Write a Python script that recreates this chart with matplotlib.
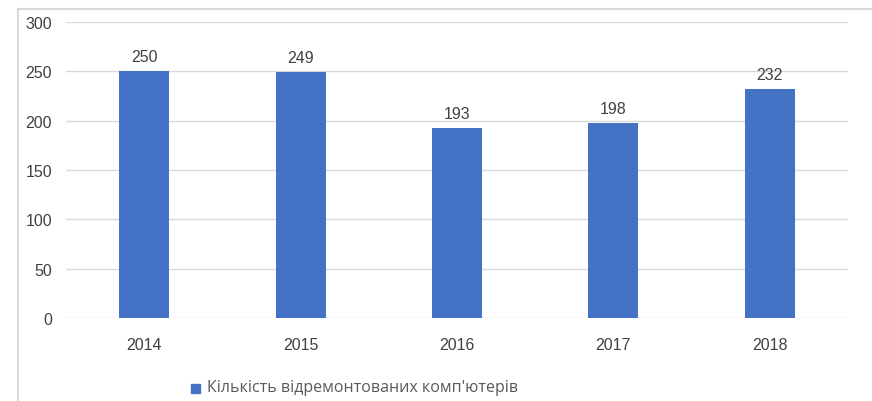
import matplotlib
matplotlib.use("Agg")
import matplotlib.pyplot as plt
from matplotlib.lines import Line2D
from matplotlib.patches import Rectangle

years = ["2014", "2015", "2016", "2017", "2018"]
values = [250, 249, 193, 198, 232]
series_name = "Кількість відремонтованих комп'ютерів"
y_ticks = [0, 50, 100, 150, 200, 250, 300]

W, H = 872, 402
fig = plt.figure(figsize=(W / 100, H / 100), dpi=100)
ax = fig.add_axes([66 / W, 1 - 319 / H, (848 - 66) / W, (319 - 23) / H])

bar_color = "#4472C4"
grid_color = "#d9d9d9"
text_color = "#404040"
fs = 11.5

x = list(range(len(years)))
bars = ax.bar(x, values, width=0.32, color=bar_color, zorder=3)
for xi, v in zip(x, values):
    ax.text(xi, v + 7, str(v), ha="center", va="bottom", fontsize=fs,
            color=text_color, family="Liberation Sans")

ax.set_xlim(-0.5, len(years) - 0.5)
ax.set_ylim(0, 300)
ax.set_yticks(y_ticks)
ax.set_xticks(x)
ax.set_xticklabels(years)
ax.yaxis.grid(True, color=grid_color, linewidth=1.0, zorder=0)
for s in ax.spines.values():
    s.set_visible(False)
ax.tick_params(axis="both", length=0, labelsize=fs, labelcolor=text_color)
ax.tick_params(axis="y", pad=10)
ax.tick_params(axis="x", pad=14)
for lab in ax.get_xticklabels() + ax.get_yticklabels():
    lab.set_family("Liberation Sans")

# outer chart frame (partially cropped)
fig.add_artist(Line2D([18 / W, 18 / W], [0, 1 - 10 / H], color=grid_color,
                      linewidth=1.5, transform=fig.transFigure))
fig.add_artist(Line2D([18 / W, 1], [1 - 10 / H, 1 - 10 / H], color=grid_color,
                      linewidth=1.5, transform=fig.transFigure))

# legend
fig.add_artist(Rectangle((191 / W, 1 - 394 / H), 9 / W, 9 / H, color=bar_color,
                         transform=fig.transFigure))
fig.text(207 / W, 1 - 388 / H, series_name, ha="left", va="center", fontsize=11.5,
         color="#595959", family="Open Sans")

fig.savefig("out.png", dpi=100)
